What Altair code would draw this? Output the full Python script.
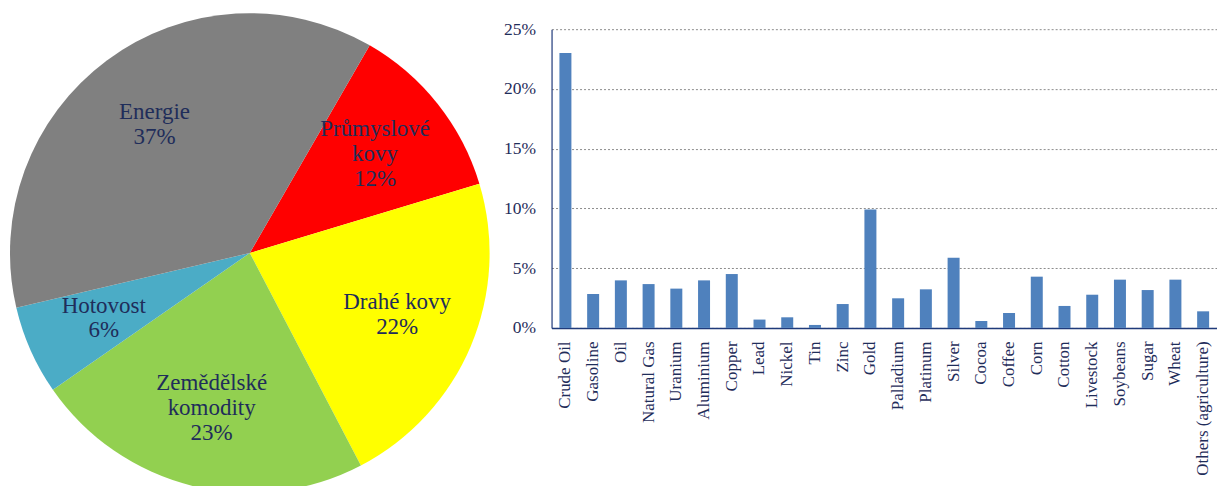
import math
import altair as alt
import pandas as pd

# ---- data: left pie (sector split) ----
sector_names = ["Průmyslové kovy", "Drahé kovy", "Zemědělské komodity", "Hotovost", "Energie"]
sector_labels = ["Průmyslové\nkovy\n12%", "Drahé kovy\n22%", "Zemědělské\nkomodity\n23%", "Hotovost\n6%", "Energie\n37%"]
sector_shares = [12, 22, 23, 6, 37]
sector_colors = ["#FF0000", "#FFFF00", "#92D050", "#4BACC6", "#808080"]

# ---- data: right bar chart (commodity weights, %) ----
commodities = ["Crude Oil", "Gasoline", "Oil", "Natural Gas", "Uranium", "Aluminium", "Copper",
               "Lead", "Nickel", "Tin", "Zinc", "Gold", "Palladium", "Platinum", "Silver",
               "Cocoa", "Coffee", "Corn", "Cotton", "Livestock", "Soybeans", "Sugar", "Wheat",
               "Others (agriculture)"]
weights = [23.0, 2.84, 3.98, 3.67, 3.29, 3.98, 4.51,
           0.70, 0.89, 0.25, 2.0, 9.91, 2.48, 3.23, 5.87,
           0.58, 1.25, 4.29, 1.84, 2.78, 4.04, 3.17, 4.04,
           1.39]
y_ticks = [0, 0.05, 0.10, 0.15, 0.20, 0.25]

SERIF = "Liberation Serif"
NAVY = "#1F2D5A"
LINE_H = 25

pie_df = pd.DataFrame({
    "order": list(range(len(sector_names))),
    "sector": sector_names,
    "label": sector_labels,
    "share": sector_shares,
})
pie_df["lines"] = [lbl.count("\n") + 1 for lbl in sector_labels]

start = math.radians(30)
base = alt.Chart(pie_df).encode(
    theta=alt.Theta("share:Q", stack=True,
                    scale=alt.Scale(range=[start, start + 2 * math.pi])),
    order=alt.Order("order:Q"),
)
arcs = base.mark_arc(outerRadius=240).encode(
    color=alt.Color("sector:N", scale=alt.Scale(domain=sector_names, range=sector_colors),
                    legend=None)
)


def label_layer(n_lines):
    # Vega anchors the first line; shift so the whole block is centred on the slice.
    return base.transform_calculate(
        t=f"datum.lines == {n_lines} ? datum.label : ''"
    ).mark_text(radius=160, font=SERIF, fontSize=23, lineBreak="\n", lineHeight=LINE_H,
                color=NAVY, align="center", baseline="middle",
                dy=-(n_lines - 1) * LINE_H / 2).encode(text="t:N")


pie = alt.layer(arcs, label_layer(2), label_layer(3)).properties(width=484, height=448)

bar_df = pd.DataFrame({"commodity": commodities, "weight": [w / 100 for w in weights]})
bars = alt.Chart(bar_df).mark_bar(size=12, color="#4F81BD").encode(
    x=alt.X("commodity:N", sort=commodities,
            scale=alt.Scale(paddingInner=0, paddingOuter=0),
            axis=alt.Axis(title=None, labelAngle=-90, ticks=False, grid=False,
                          labelPadding=13, labelFont=SERIF, labelFontSize=17,
                          labelColor=NAVY, domainColor="#1F3A7A", domainWidth=1.5)),
    y=alt.Y("weight:Q", scale=alt.Scale(domain=[0, 0.25], nice=False),
            axis=alt.Axis(title=None, format=".0%", values=y_ticks, ticks=False,
                          labelPadding=16, labelFont=SERIF, labelFontSize=17.5,
                          labelColor=NAVY, domainColor="#1F3A7A", domainWidth=1.2,
                          grid=True, gridColor="#8C8C8C", gridDash=[2, 2], gridWidth=1,
                          minExtent=48, maxExtent=48)),
).properties(width=666, height=299,
             title=alt.TitleParams(" ", fontSize=8, offset=4))

chart = alt.hconcat(pie, bars, spacing=11).properties(padding=0).configure_view(strokeWidth=0)

chart.save("out.html", embed_options={"renderer": "svg", "actions": False})
